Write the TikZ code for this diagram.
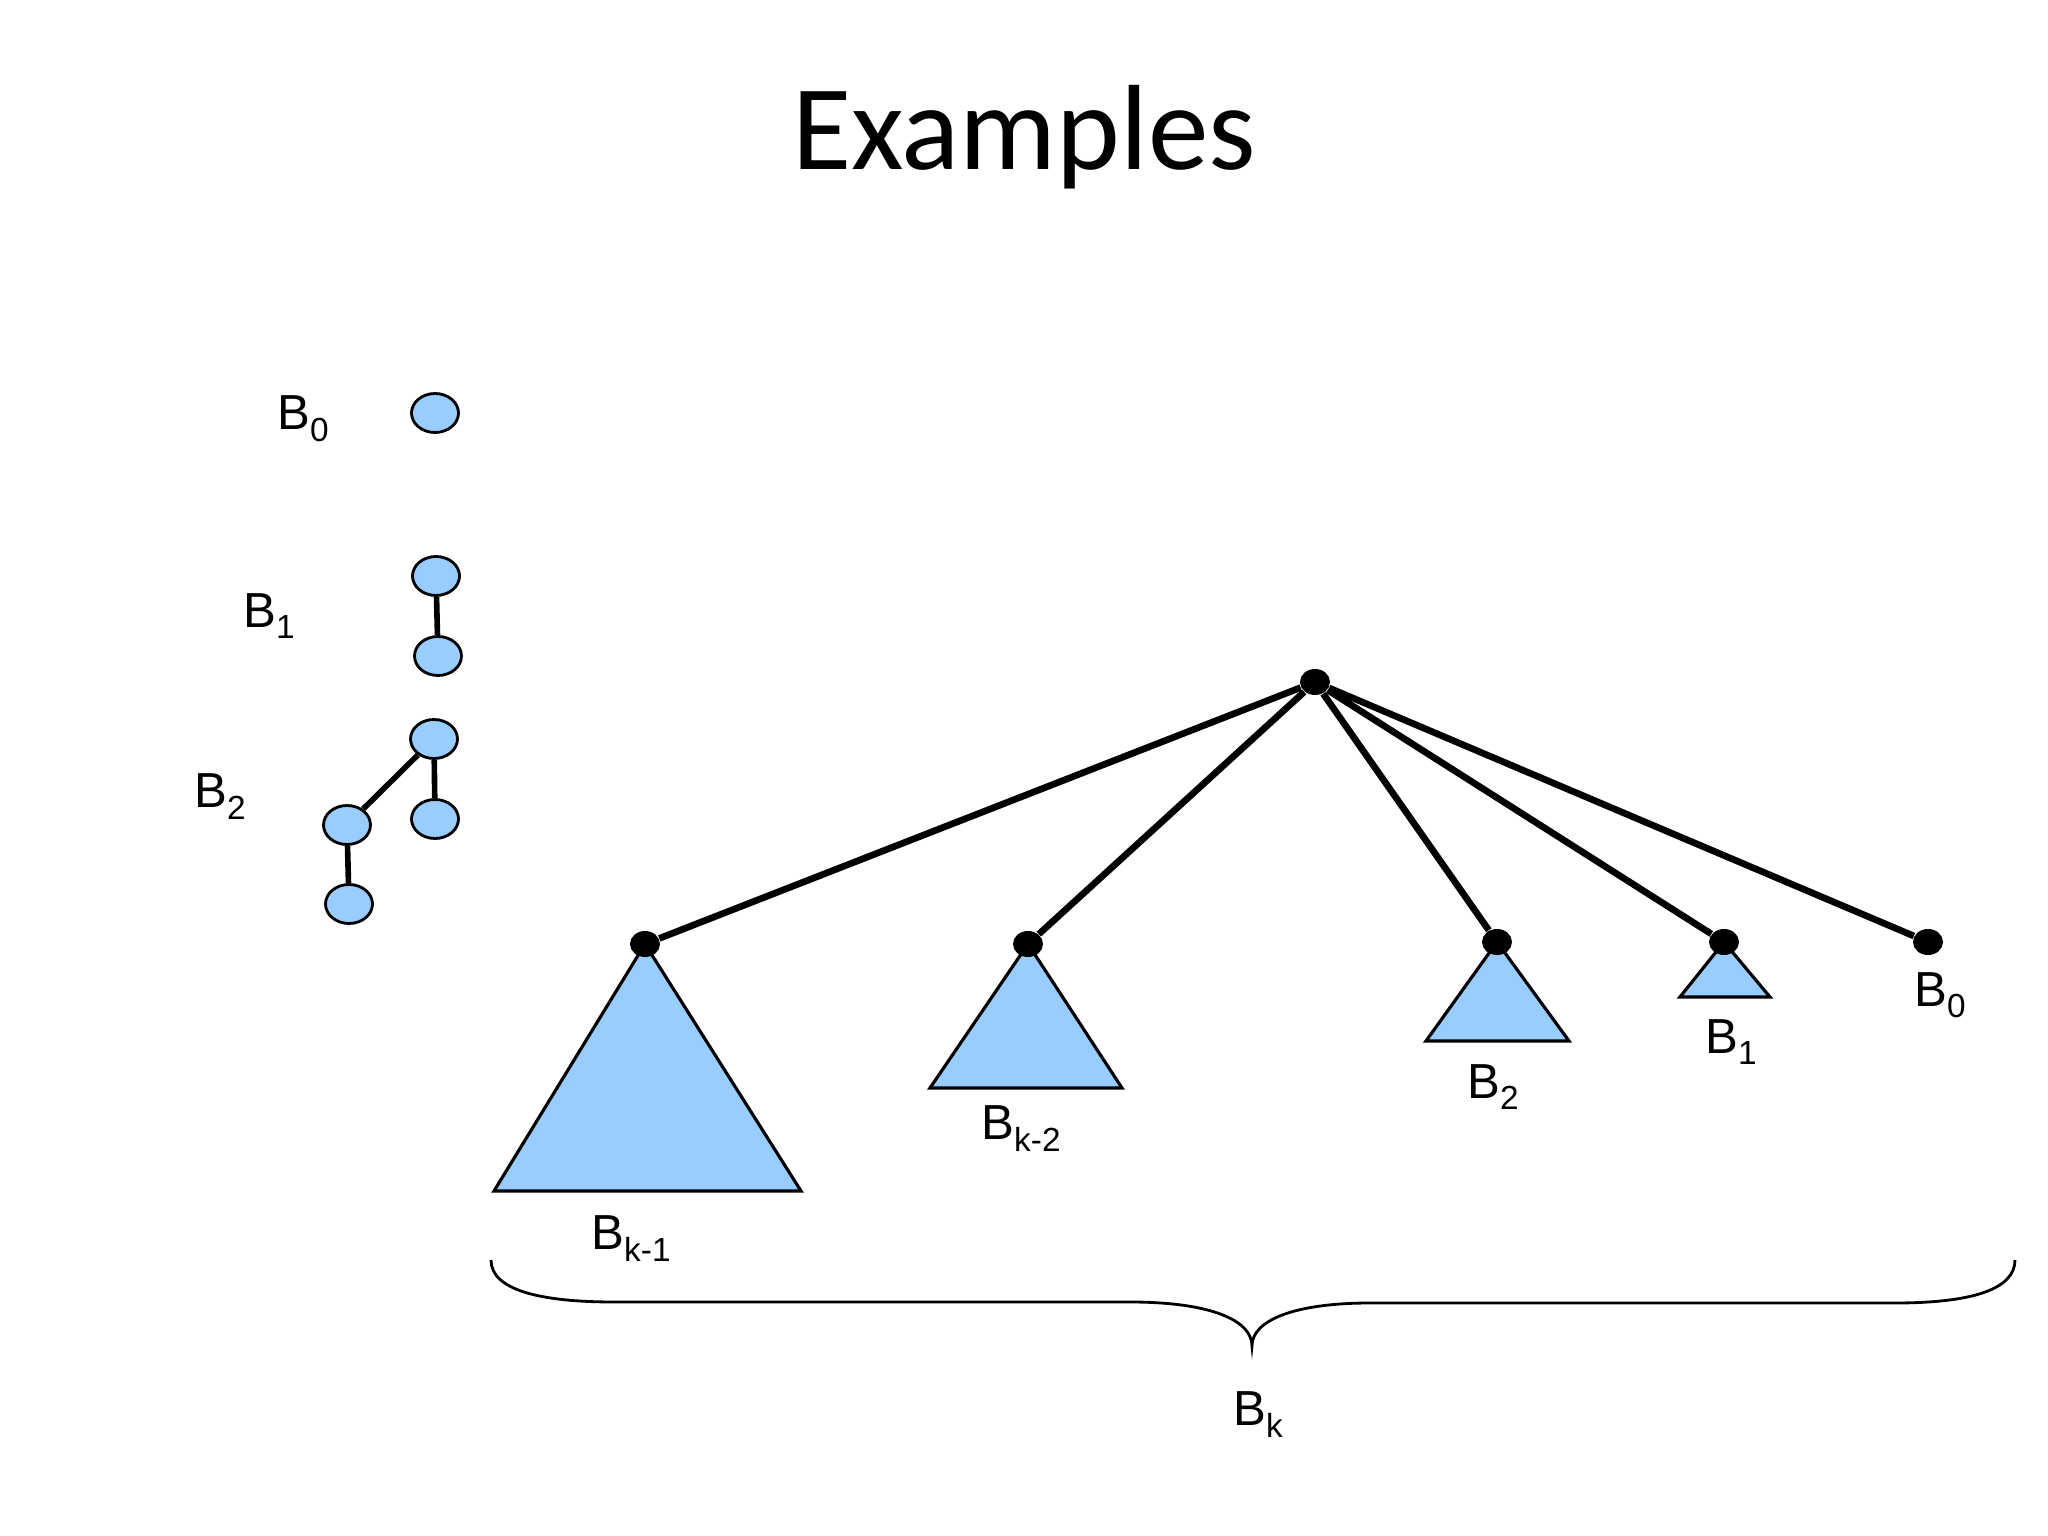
\documentclass[tikz,border=0pt]{standalone}
\usepackage{fontspec}
\setmainfont{Liberation Sans}
\newfontfamily\titlefont{Carlito}
\usetikzlibrary{shapes.geometric}

\definecolor{treeblue}{RGB}{153,204,255}
\newcommand{\Bname}[1]{B\raisebox{-0.12cm}{\fontsize{9.5}{10}\selectfont #1}}

\begin{document}
\begin{tikzpicture}[x=1cm, y=-1cm,
    every node/.style={font=\fontsize{14}{16}\selectfont},
    heapnode/.style={draw, ellipse, fill=treeblue, line width=0.8pt,
        minimum width=0.47cm, minimum height=0.39cm, inner sep=0pt},
    bigdot/.style={ellipse, fill=black, minimum width=0.30cm,
        minimum height=0.26cm, inner sep=0pt},
    treeedge/.style={line width=1.6pt},
    rootedge/.style={line width=1.9pt},
    subtree/.style={draw, fill=treeblue, line width=0.9pt},
    treelabel/.style={anchor=base, inner sep=0pt}
]
\useasboundingbox (0,0) rectangle (20.48,15.36);

\node[anchor=base, font=\titlefont\fontsize{34.5}{40}\selectfont] (title) at (10.24,1.70) {Examples};

% small trees
\node[heapnode] (s0) at (4.35,4.13) {};
\node[heapnode] (s1a) at (4.36,5.76) {};
\node[heapnode] (s1b) at (4.38,6.56) {};
\node[heapnode] (s2a) at (4.34,7.39) {};
\node[heapnode] (s2b) at (4.35,8.19) {};
\node[heapnode] (s2c) at (3.47,8.25) {};
\node[heapnode] (s2d) at (3.49,9.04) {};

\draw[treeedge] (s1a) -- (s1b);
\draw[treeedge] (s2a) -- (s2b);
\draw[treeedge] (s2a) -- (s2c);
\draw[treeedge] (s2c) -- (s2d);

\node[treelabel] (ls0) at (3.03,4.30) {\Bname{0}};
\node[treelabel] (ls1) at (2.69,6.27) {\Bname{1}};
\node[treelabel] (ls2) at (2.20,8.08) {\Bname{2}};

% B_k
\coordinate (p1) at (6.45,9.44);
\coordinate (p2) at (10.28,9.44);
\coordinate (p3) at (14.97,9.42);
\coordinate (p4) at (17.24,9.42);
\coordinate (p5) at (19.28,9.42);

\draw[subtree] (p1) -- ++(-1.51,2.47) -- ++(3.07,0) -- cycle;
\draw[subtree] (p2) -- ++(-0.98,1.44) -- ++(1.92,0) -- cycle;
\draw[subtree] (p3) -- ++(-0.71,0.99) -- ++(1.43,0) -- cycle;
\draw[subtree] (p4) -- ++(-0.44,0.55) -- ++(0.90,0) -- cycle;

\node[bigdot] (root) at (13.15,6.82) {};
\node[bigdot] (k1) at (p1) {};
\node[bigdot] (k2) at (p2) {};
\node[bigdot] (t2) at (p3) {};
\node[bigdot] (t1) at (p4) {};
\node[bigdot] (t0) at (p5) {};

\draw[rootedge] (root) -- (k1);
\draw[rootedge] (root) -- (k2);
\draw[rootedge] (root) -- (t2);
\draw[rootedge] (root) -- (t1);
\draw[rootedge] (root) -- (t0);

\node[treelabel] (lk1) at (6.31,12.49) {\Bname{k-1}};
\node[treelabel] (lk2) at (10.21,11.40) {\Bname{k-2}};
\node[treelabel] (lt2) at (14.93,10.98) {\Bname{2}};
\node[treelabel] (lt1) at (17.31,10.53) {\Bname{1}};
\node[treelabel] (lt0) at (19.40,10.06) {\Bname{0}};

% brace
\draw[line width=0.8pt] (4.91,12.60) .. controls (4.91,12.90) and (5.40,13.02) .. (6.14,13.02)
    -- (11.30,13.02) .. controls (12.10,13.02) and (12.52,13.20) .. (12.52,13.46)
    .. controls (12.52,13.20) and (12.95,13.03) .. (13.70,13.03)
    -- (18.95,13.03) .. controls (19.70,13.03) and (20.15,12.90) .. (20.15,12.60);
\node[treelabel] (lk) at (12.58,14.25) {\Bname{k}};

\end{tikzpicture}
\end{document}
